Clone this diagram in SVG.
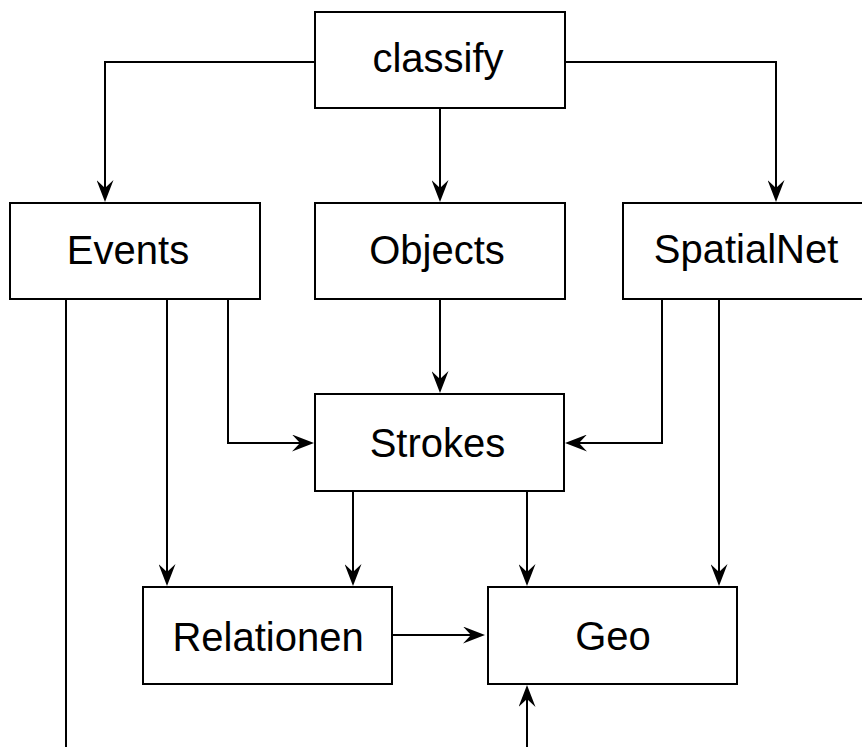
<svg xmlns="http://www.w3.org/2000/svg" width="862" height="747" viewBox="0 0 862 747">
  <style>
    .box { fill: #ffffff; stroke: #000000; stroke-width: 2; }
    .lbl { font-family: "Liberation Sans", Arial, Helvetica, sans-serif; font-size: 40px; fill: #000000; text-anchor: middle; }
    .edge { fill: none; stroke: #000000; stroke-width: 2; }
    .arrow { marker-end: url(#head); }
  </style>
  <defs>
    <!-- notched arrowhead; tip sits 10px beyond the end of the line -->
    <marker id="head" viewBox="0 0 22 17" refX="12" refY="8.5" markerWidth="22" markerHeight="17" markerUnits="userSpaceOnUse" orient="auto">
      <path d="M0,0 L22,8.5 L0,17 L8,8.5 Z" fill="#000000"/>
    </marker>
  </defs>
  <rect width="862" height="747" fill="#ffffff"/>

  <g id="connectors">
    <path class="edge arrow" d="M315,62 H105 V192"/>
    <path class="edge arrow" d="M440,108 V192"/>
    <path class="edge arrow" d="M565,62 H776 V192"/>
    <path class="edge arrow" d="M440,299 V383"/>
    <path class="edge arrow" d="M228,299 V443 H304"/>
    <path class="edge arrow" d="M662,299 V443 H575"/>
    <path class="edge arrow" d="M167,299 V576"/>
    <path class="edge arrow" d="M353,491 V576"/>
    <path class="edge arrow" d="M527,491 V576"/>
    <path class="edge arrow" d="M719,299 V576"/>
    <path class="edge arrow" d="M392,635 H475"/>
    <path class="edge arrow" d="M527,747 V695"/>
    <path class="edge" d="M66,299 V747"/>
  </g>

  <g id="classify">
    <rect class="box" x="315" y="12" width="250" height="96"/>
    <text class="lbl" x="438" y="72">classify</text>
  </g>
  <g id="events">
    <rect class="box" x="10" y="203" width="250" height="96"/>
    <text class="lbl" x="128" y="264">Events</text>
  </g>
  <g id="objects">
    <rect class="box" x="315" y="203" width="250" height="96"/>
    <text class="lbl" x="437" y="264">Objects</text>
  </g>
  <g id="spatialnet">
    <rect class="box" x="623" y="203" width="250" height="96"/>
    <text class="lbl" x="746" y="263">SpatialNet</text>
  </g>
  <g id="strokes">
    <rect class="box" x="315" y="394" width="249" height="97"/>
    <text class="lbl" x="437.5" y="457">Strokes</text>
  </g>
  <g id="relationen">
    <rect class="box" x="143" y="587" width="249" height="97"/>
    <text class="lbl" x="268" y="651">Relationen</text>
  </g>
  <g id="geo">
    <rect class="box" x="488" y="587" width="249" height="97"/>
    <text class="lbl" x="613" y="650">Geo</text>
  </g>
</svg>
